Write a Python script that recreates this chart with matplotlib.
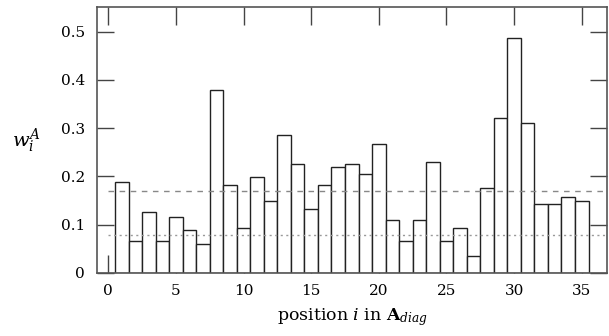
# Bar chart of weights w_i^A against position i in A_diag, gnuplot-like style

import numpy as np
import matplotlib
matplotlib.use('Agg')
import matplotlib.pyplot as plt

plt.rcParams['font.family'] = ['DejaVu Serif']
plt.rcParams['mathtext.fontset'] = 'dejavuserif'

# data
positions = list(range(1, 36))
weights = [0.189, 0.067, 0.127, 0.067, 0.115, 0.089, 0.060, 0.380, 0.182, 0.093,
           0.198, 0.149, 0.286, 0.226, 0.133, 0.182, 0.220, 0.226, 0.205, 0.268,
           0.110, 0.067, 0.110, 0.230, 0.067, 0.093, 0.034, 0.175, 0.320, 0.487,
           0.310, 0.142, 0.142, 0.158, 0.148]
dashed_level = 0.170 # upper reference line
dotted_level = 0.079 # lower reference line

xticks = [0, 5, 10, 15, 20, 25, 30, 35]
yticks = [0, 0.1, 0.2, 0.3, 0.4, 0.5]
ytick_labels = ['0', '0.1', '0.2', '0.3', '0.4', '0.5']

fig = plt.figure(figsize = (6.09, 3.36), dpi = 100)
ax = fig.add_axes([0.160, 0.188, 0.8375, 0.791])

ax.bar(positions, weights, width = 1.0, facecolor = 'white', edgecolor = '#222222', lw = 1.0, zorder = 2)
ax.plot([0, 37], [dashed_level, dashed_level], color = '#888888', lw = 1.0, ls = (0, (4, 4)), zorder = 3)
ax.plot([0, 37], [dotted_level, dotted_level], color = '#999999', lw = 1.0, ls = (0, (1.5, 2.5)), zorder = 3)

ax.set_xlim(-0.8, 36.9)
ax.set_ylim(0, 0.551)
ax.set_xticks(xticks)
ax.set_yticks(yticks)
ax.set_yticklabels(ytick_labels)
ax.tick_params(axis = 'both', direction = 'in', top = True, right = True, color = '#444444', labelsize = 11, width = 1.0)
ax.tick_params(axis = 'x', length = 13, pad = 8)
ax.tick_params(axis = 'y', length = 12, pad = 9)
for s in ax.spines.values():
    s.set_color('#555555')
    s.set_linewidth(1.2)

ax.set_xlabel(r'position $i$ in $\mathbf{A}_{diag}$', fontsize = 12.5, labelpad = 6)
ax.set_ylabel(r'$w_i^A$', fontsize = 14, rotation = 0, labelpad = 0)
ax.yaxis.set_label_coords(-0.14, 0.445)

fig.savefig('out.png', dpi = 100)
